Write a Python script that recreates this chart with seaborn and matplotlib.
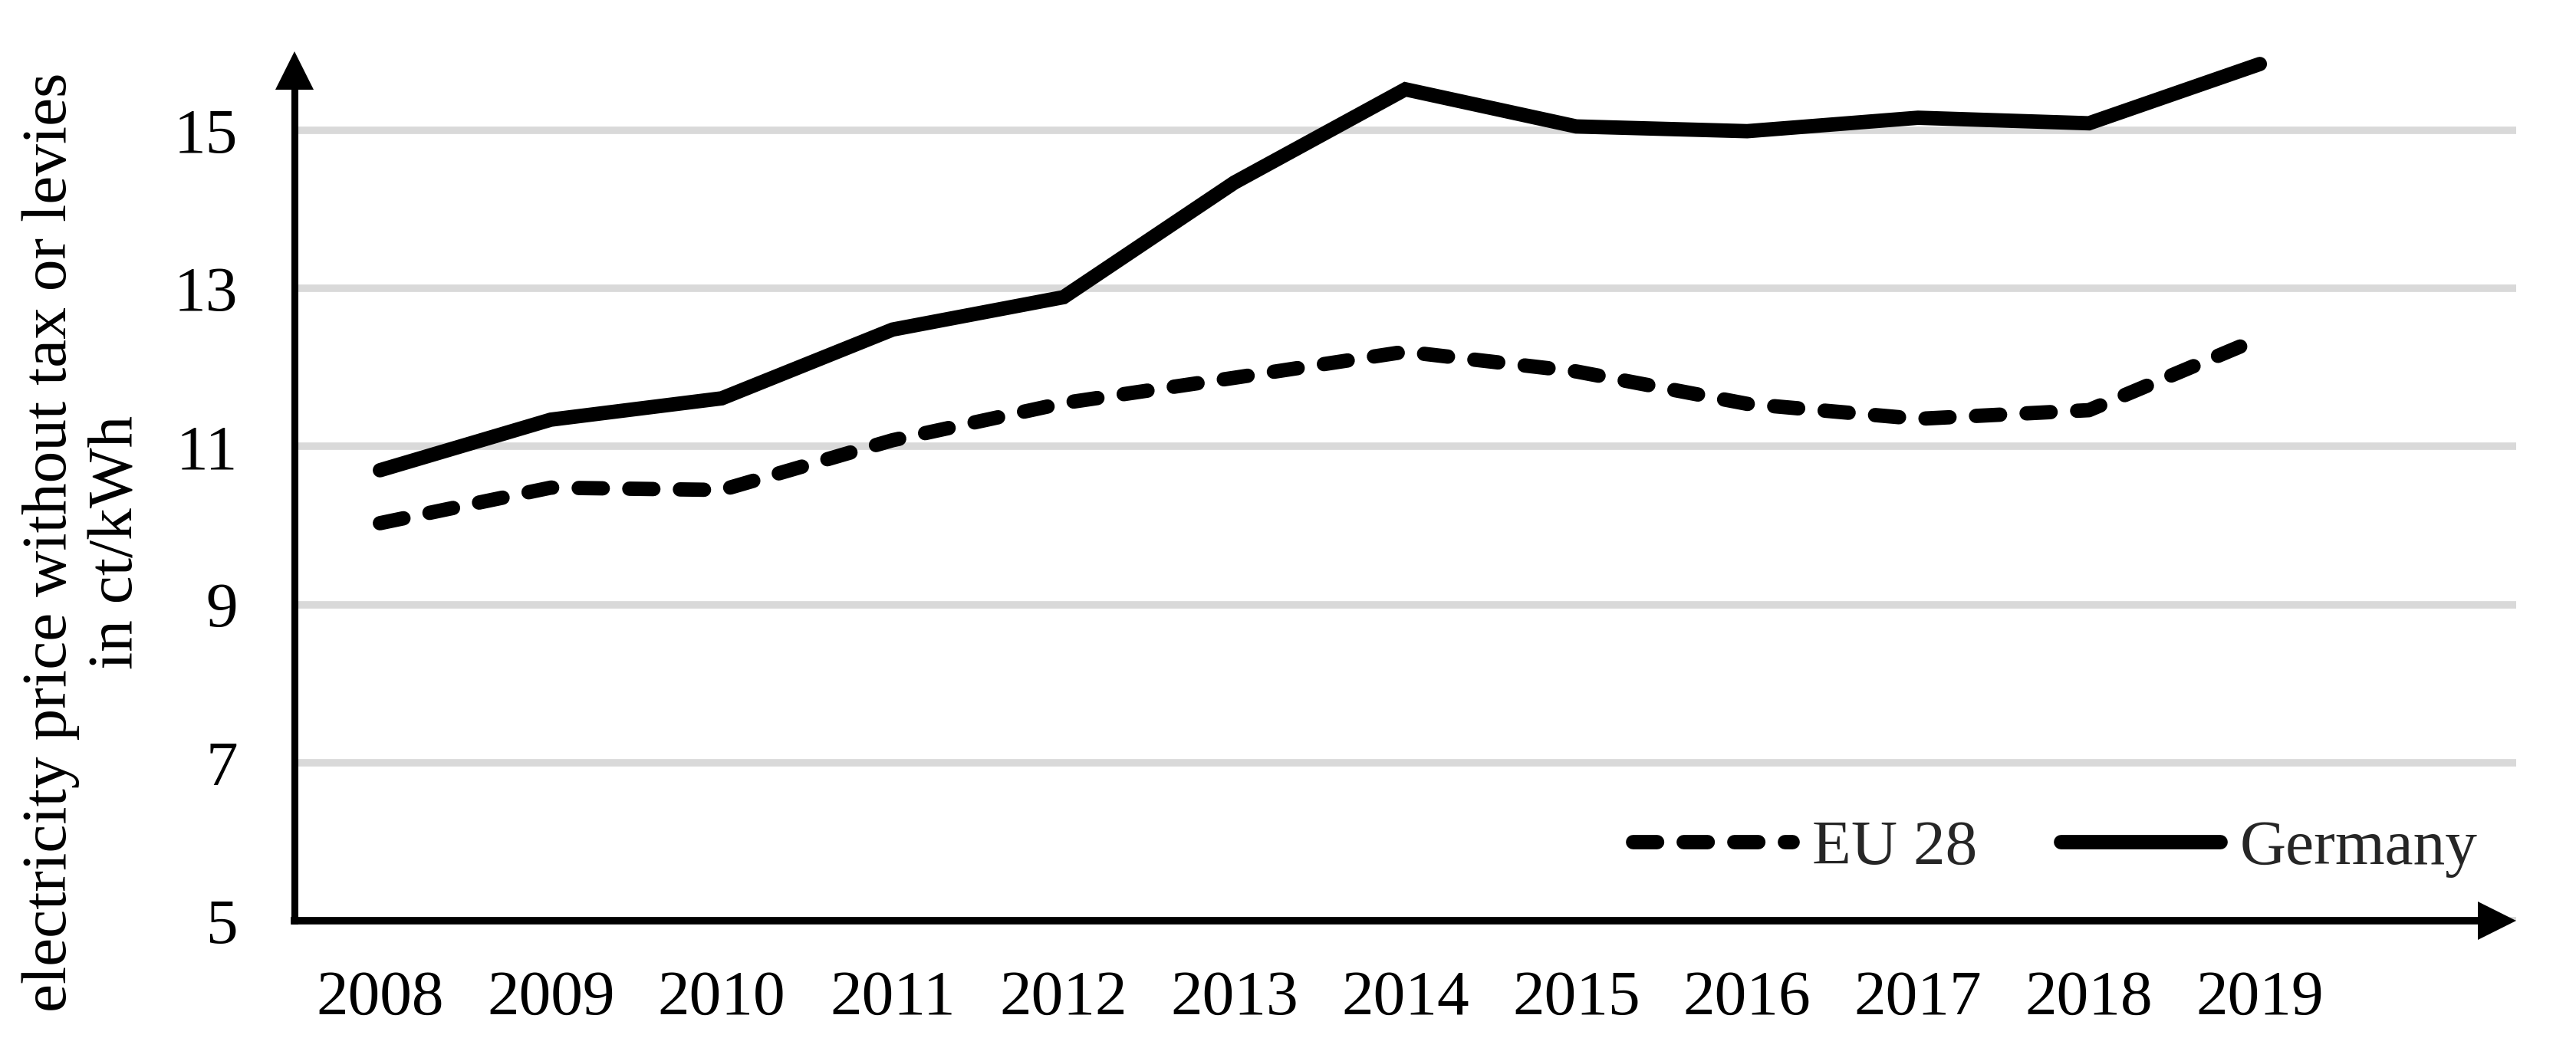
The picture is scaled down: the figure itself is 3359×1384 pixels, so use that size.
#!/usr/bin/env python
# coding: utf-8

# Electricity price without tax or levies, EU 28 vs Germany, 2008-2019

import pandas as pd
import numpy as np
import seaborn as sns
import matplotlib
matplotlib.use("Agg")
import matplotlib.pyplot as plt
import matplotlib.transforms as mtransforms

years = [2008, 2009, 2010, 2011, 2012, 2013, 2014, 2015, 2016, 2017, 2018, 2019]
eu28 = [10.03, 10.48, 10.45, 11.08, 11.55, 11.87, 12.20, 11.95, 11.54, 11.35, 11.46, 12.37]
germany = [10.70, 11.34, 11.61, 12.48, 12.89, 14.34, 15.52, 15.05, 14.99, 15.16, 15.09, 15.84]
series_names = ["EU 28", "Germany"]
y_ticks = [5, 7, 9, 11, 13, 15]
y_label = "electricity price without tax or levies\nin ct/kWh"

sns.set_style("white")
plt.rcParams['font.family'] = ['Liberation Serif', 'DejaVu Serif']

W, H = 3359, 1384
fig = plt.figure(figsize=(W / 100, H / 100), dpi=100)
# axes box in pixels: left 384, right 3281, bottom 1201, top 67
ax = fig.add_axes([384 / W, 1 - 1201 / H, (3281 - 384) / W, (1201 - 67) / H])

df = pd.DataFrame({
    "year": years * 2,
    "price": eu28 + germany,
    "region": [series_names[0]] * len(years) + [series_names[1]] * len(years),
})

sns.lineplot(data=df, x="year", y="price", hue="region", style="region",
             hue_order=series_names, style_order=series_names,
             palette=["black", "black"], dashes={"EU 28": (1.67, 1.85), "Germany": ""},
             linewidth=13.5, errorbar=None, legend=False, ax=ax)

lines = list(ax.lines)
for ln in lines:
    ln.set_dash_capstyle("round")
    ln.set_solid_capstyle("round")
    ln.set_solid_joinstyle("miter")
    ln.set_clip_on(False)
    ln.set_zorder(3)

ax.set_xlim(2007.5, 2020.5)
ax.set_ylim(5, 16)
ax.set_xticks(years)
ax.set_xticklabels([str(y) for y in years])
ax.set_yticks(y_ticks)
ax.set_xlabel("")
ax.set_ylabel("")

ax.yaxis.grid(True, color="#d9d9d9", linewidth=7)
ax.xaxis.grid(False)
ax.set_axisbelow(True)

for s in ["top", "right"]:
    ax.spines[s].set_visible(False)
ax.spines["left"].set_linewidth(6.5)
ax.spines["bottom"].set_linewidth(7)
ax.spines["left"].set_color("black")
ax.spines["bottom"].set_color("black")
ax.spines["left"].set_bounds(5, 15.6)
ax.spines["bottom"].set_bounds(2007.5, 2020.3)
ax.spines["left"].set_zorder(4)
ax.spines["bottom"].set_zorder(4)

ax.tick_params(axis="y", length=0, pad=53, labelsize=60, colors="black")
ax.tick_params(axis="x", length=0, pad=46, labelsize=60, colors="black")

# arrow heads on the axes
up = ax.transAxes + mtransforms.ScaledTranslation(0, -0.25, fig.dpi_scale_trans)
ax.plot([0], [1], marker="^", markersize=36, color="black", mew=0,
        transform=up, clip_on=False, zorder=5)
right = ax.transAxes + mtransforms.ScaledTranslation(-0.25, 0, fig.dpi_scale_trans)
ax.plot([1], [0], marker=">", markersize=36, color="black", mew=0,
        transform=right, clip_on=False, zorder=5)
ax.set_xlim(2007.5, 2020.5)
ax.set_ylim(5, 16)

ax.legend(handles=lines, labels=series_names, ncol=2, frameon=False,
          loc="center left", bbox_to_anchor=(2129 / W, 1 - 1107 / H),
          bbox_transform=fig.transFigure, borderpad=0, borderaxespad=0,
          handlelength=2.5, handletextpad=0.31, columnspacing=1.3, fontsize=60)

fig.text(28 / W, 1 - 707 / H, y_label, rotation=90, ha="left", va="center",
         multialignment="center", fontsize=60, color="black")

fig.savefig("out.png", dpi=100)
print("End of program")
